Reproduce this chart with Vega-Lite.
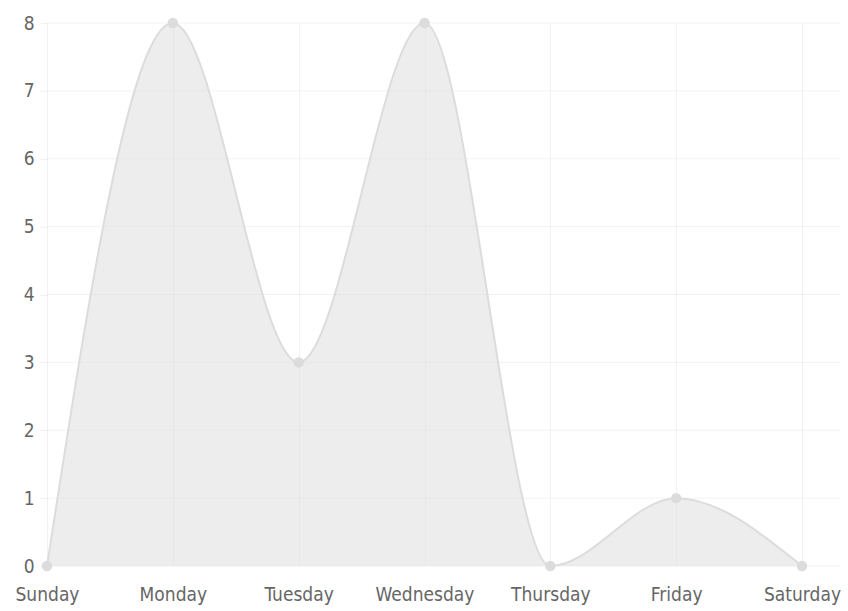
{
  "$schema": "https://vega.github.io/schema/vega-lite/v6.json",
  "width": 793,
  "height": 543,
  "autosize": {"type": "none"},
  "padding": {"left": 47, "top": 23, "right": 8, "bottom": 45},
  "background": "white",
  "config": {
    "view": {"stroke": null},
    "font": "DejaVu Sans Condensed",
    "axis": {
      "labelFont": "DejaVu Sans Condensed",
      "labelFontSize": 19,
      "labelColor": "#666666",
      "gridColor": "#000000",
      "gridOpacity": 0.05,
      "gridWidth": 1,
      "domain": false,
      "tickColor": "#000000",
      "tickOpacity": 0.05,
      "title": null,
      "labelOverlap": false
    }
  },
  "data": {
    "values": [
      {"day": "Sunday", "value": 0},
      {"day": "Monday", "value": 8},
      {"day": "Tuesday", "value": 3},
      {"day": "Wednesday", "value": 8},
      {"day": "Thursday", "value": 0},
      {"day": "Friday", "value": 1},
      {"day": "Saturday", "value": 0}
    ]
  },
  "encoding": {
    "x": {
      "field": "day",
      "type": "ordinal",
      "sort": null,
      "scale": {"type": "point", "range": [0, 755], "padding": 0},
      "axis": {"labelAngle": 0, "grid": true, "ticks": false, "labelPadding": 19, "labelFlush": false}
    },
    "y": {
      "field": "value",
      "type": "quantitative",
      "scale": {"domain": [0, 8], "nice": false, "zero": true},
      "axis": {"values": [0, 1, 2, 3, 4, 5, 6, 7, 8], "grid": false, "ticks": true, "tickSize": 7, "labelPadding": 6, "labelFlush": false}
    }
  },
  "layer": [
    {
      "data": {"values": [{"g": 0}, {"g": 1}, {"g": 2}, {"g": 3}, {"g": 4}, {"g": 5}, {"g": 6}, {"g": 7}, {"g": 8}]},
      "mark": {"type": "rule", "color": "#000000", "opacity": 0.05, "strokeWidth": 1},
      "encoding": {"y": {"field": "g", "type": "quantitative"}, "x": null}
    },
    {
      "mark": {"type": "area", "interpolate": "monotone", "color": "#dcdcdc", "fillOpacity": 0.5, "line": {"color": "#dcdcdc", "strokeWidth": 2}}
    },
    {
      "mark": {"type": "point", "filled": true, "color": "#dcdcdc", "opacity": 1, "size": 110}
    }
  ]
}
